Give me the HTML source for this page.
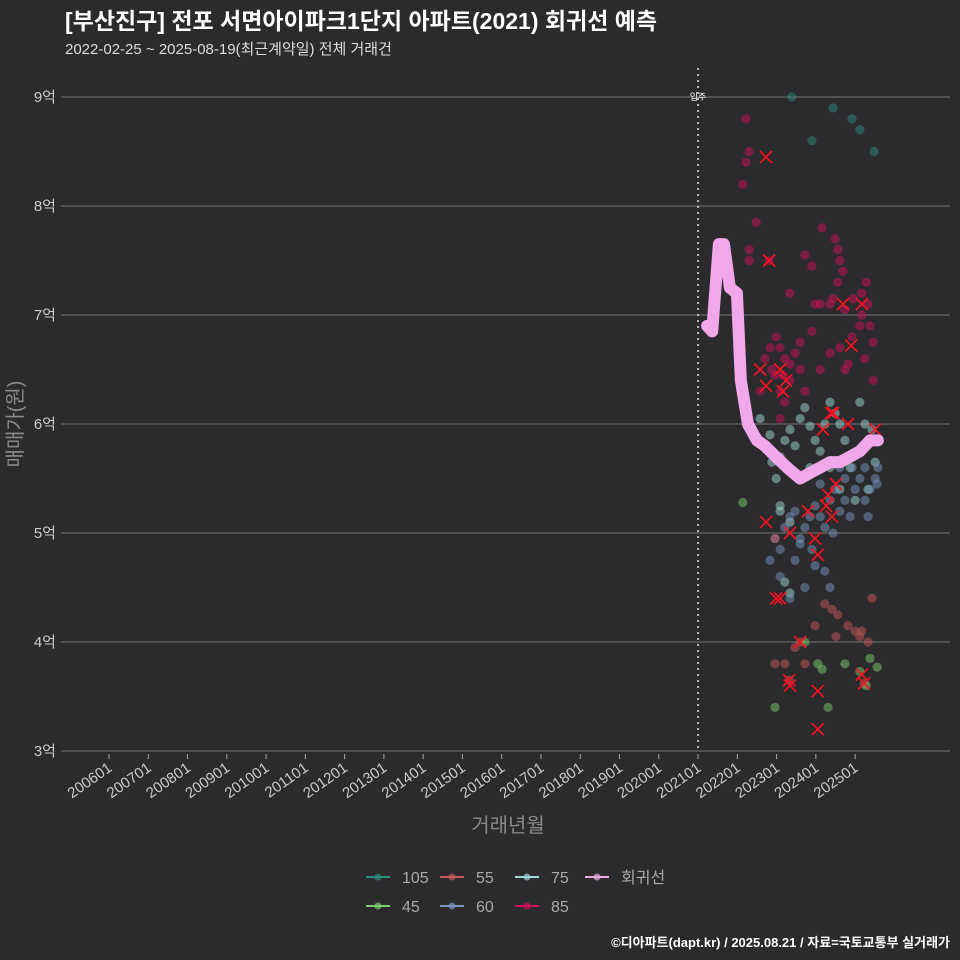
<!DOCTYPE html>
<html><head><meta charset="utf-8"><style>
html,body{margin:0;padding:0;background:#2b2b2d;}
svg{display:block;font-family:"Liberation Sans","Noto Sans CJK KR",sans-serif;}
</style></head><body>
<svg id="chart" width="960" height="960" viewBox="0 0 960 960" xmlns="http://www.w3.org/2000/svg">
<rect width="960" height="960" fill="#2b2b2d"/>
<text x="65" y="29" fill="#ffffff" font-size="23" font-weight="bold">[부산진구] 전포 서면아이파크1단지 아파트(2021) 회귀선 예측</text>
<text x="65" y="54" fill="#dddddd" font-size="15">2022-02-25 ~ 2025-08-19(최근계약일) 전체 거래건</text>
<g id="grid"></g>
<g id="xaxis"></g>
<g id="yaxis"></g>
<g id="marks"></g>
<text x="22" y="424" fill="#8a8a8a" font-size="20" text-anchor="middle" transform="rotate(-90 22 424)">매매가(원)</text>
<text x="508" y="832" fill="#8a8a8a" font-size="20" text-anchor="middle">거래년월</text>
<g id="legend"></g>
<text x="950" y="947" fill="#ffffff" font-size="13" font-weight="bold" text-anchor="end">©디아파트(dapt.kr) / 2025.08.21 / 자료=국토교통부 실거래가</text>
</svg>
<script>
const yTicks=[3,4,5,6,7,8,9];
const xTickYears=[2006,2007,2008,2009,2010,2011,2012,2013,2014,2015,2016,2017,2018,2019,2020,2021,2022,2023,2024,2025];
const moveInYear=2021.0;
const s105=[[2023.39,9.0],[2024.44,8.9],[2024.92,8.8],[2025.12,8.7],[2023.90,8.6],[2025.48,8.5]];
const s85=[[2022.22,8.8],[2022.30,8.5],[2022.22,8.4],[2022.14,8.2],[2022.48,7.85],[2022.30,7.6],[2022.30,7.5],[2022.81,7.5],[2023.34,7.2],[2023.72,7.55],[2023.90,7.45],[2024.16,7.8],[2024.49,7.7],[2024.56,7.6],[2024.61,7.5],[2024.69,7.4],[2024.11,7.1],[2024.44,7.15],[2024.74,7.05],[2024.95,7.15],[2025.17,7.2],[2025.33,7.1],[2025.38,6.9],[2025.12,6.9],[2024.92,6.8],[2024.61,6.7],[2024.36,6.65],[2024.74,6.5],[2025.25,6.6],[2025.46,6.75],[2025.46,6.4],[2022.99,6.8],[2023.09,6.7],[2023.21,6.6],[2023.34,6.55],[2023.47,6.65],[2023.60,6.5],[2023.72,6.3],[2022.96,6.45],[2023.09,6.3],[2023.34,6.4],[2023.60,6.75],[2023.90,6.85],[2023.98,7.1],[2024.11,6.5],[2024.36,7.1],[2024.56,7.3],[2025.17,7.0],[2022.70,6.6],[2022.83,6.7],[2022.58,6.3],[2023.21,6.2],[2023.09,6.05],[2025.28,7.3],[2024.82,6.55],[2023.16,6.45],[2022.88,6.5]];
const s75=[[2022.88,5.65],[2023.09,5.7],[2023.21,5.85],[2023.34,5.95],[2023.47,5.8],[2023.60,6.05],[2023.72,6.15],[2023.85,5.98],[2023.98,5.85],[2024.11,5.75],[2024.36,6.2],[2024.49,6.1],[2024.61,6.0],[2024.74,5.85],[2024.87,5.6],[2025.12,6.2],[2025.25,6.0],[2025.38,5.85],[2025.51,5.65],[2023.09,5.2],[2023.34,5.1],[2023.60,5.5],[2023.85,5.6],[2024.36,5.6],[2024.61,5.4],[2025.00,5.3],[2025.33,5.4],[2022.58,6.05],[2022.83,5.9],[2022.99,5.5],[2023.21,4.55],[2023.34,4.45],[2023.09,5.25],[2024.23,6.0],[2025.43,5.95]];
const s60=[[2022.96,4.95],[2023.09,4.85],[2023.21,5.05],[2023.34,5.15],[2023.47,5.2],[2023.60,4.95],[2023.72,5.05],[2023.85,5.15],[2023.98,5.25],[2024.11,5.15],[2024.23,5.05],[2024.36,5.3],[2024.49,5.4],[2024.61,5.2],[2024.74,5.3],[2024.87,5.15],[2025.00,5.4],[2025.12,5.5],[2025.25,5.3],[2025.38,5.4],[2025.51,5.5],[2025.58,5.6],[2025.33,5.15],[2024.74,5.5],[2024.92,5.6],[2023.09,4.6],[2023.47,4.75],[2023.90,4.85],[2024.23,4.65],[2023.72,4.5],[2024.36,4.5],[2022.83,4.75],[2023.34,4.4],[2023.60,4.9],[2023.98,4.7],[2024.61,5.6],[2025.25,5.6],[2024.11,5.45],[2025.56,5.45],[2024.44,5.0]];
const s55=[[2023.60,4.0],[2023.47,3.95],[2023.98,4.15],[2024.23,4.35],[2024.41,4.3],[2024.56,4.25],[2024.82,4.15],[2025.00,4.1],[2025.12,4.05],[2025.33,4.0],[2025.43,4.4],[2025.17,4.1],[2022.96,3.8],[2023.21,3.8],[2023.72,3.8],[2024.51,4.05],[2022.96,4.95],[2023.32,3.65],[2025.23,3.62]];
const s45=[[2022.14,5.28],[2022.96,3.4],[2023.72,4.0],[2024.05,3.8],[2024.16,3.75],[2024.74,3.8],[2025.12,3.73],[2025.38,3.85],[2025.56,3.77],[2024.31,3.4],[2025.28,3.6]];
const cancelled=[[2022.73,8.45],[2022.81,7.5],[2024.69,7.1],[2025.17,7.1],[2024.90,6.72],[2022.58,6.5],[2023.09,6.5],[2023.24,6.4],[2022.73,6.35],[2023.16,6.3],[2024.39,6.1],[2024.82,6.0],[2025.51,5.95],[2024.18,5.95],[2024.44,6.1],[2022.73,5.1],[2023.34,5.0],[2024.31,5.35],[2023.80,5.2],[2024.26,5.25],[2024.41,5.15],[2023.98,4.95],[2024.05,4.8],[2022.99,4.4],[2023.09,4.4],[2023.60,4.0],[2023.32,3.65],[2023.34,3.6],[2024.05,3.55],[2025.17,3.7],[2025.23,3.62],[2024.05,3.2],[2024.51,5.45]];
const regYears=[2021.23,2021.36,2021.53,2021.66,2021.81,2021.99,2022.09,2022.27,2022.50,2022.70,2022.98,2023.27,2023.60,2023.85,2024.11,2024.36,2024.61,2024.87,2025.12,2025.38,2025.58];
const regPrices=[6.9,6.85,7.65,7.65,7.25,7.2,6.4,6.0,5.85,5.8,5.7,5.6,5.5,5.55,5.6,5.65,5.65,5.7,5.75,5.85,5.85];

const NS="http://www.w3.org/2000/svg";
const xS=yr=>109+(yr-2006)*39.27;
const yS=p=>751-(p-3)*109;
function mk(tag,attrs,parent){const e=document.createElementNS(NS,tag);for(const k in attrs)e.setAttribute(k,attrs[k]);parent.appendChild(e);return e;}
const grid=document.getElementById('grid'),xa=document.getElementById('xaxis'),ya=document.getElementById('yaxis'),marks=document.getElementById('marks'),leg=document.getElementById('legend');
yTicks.forEach(v=>{
  const l=mk('line',{x1:61,x2:950,y1:yS(v),y2:yS(v),stroke:'#666',"stroke-width":1.2},grid);
  
  
  const t=mk('text',{x:56,y:yS(v)+5,fill:'#cccccc',"font-size":15,"text-anchor":"end"},ya);
  t.textContent=v+'억';
  
  
});
xTickYears.forEach(yr=>{
  const x=xS(yr);
  const l=mk('line',{x1:x,x2:x,y1:754,y2:759,stroke:'#aaa'},xa);
  
  
  const t=mk('text',{x:x+4,y:770,fill:'#cccccc',"font-size":15,"text-anchor":"end",transform:`rotate(-35 ${x+4} 770)`},xa);
  t.textContent=yr+'01';
  
  
});
const mv=mk('line',{x1:xS(moveInYear),x2:xS(moveInYear),y1:68,y2:751,stroke:'#bbb',"stroke-width":2,"stroke-dasharray":"2,4"},marks);


const mvt=mk('text',{x:xS(moveInYear),y:100,fill:'#fff',"font-size":9,"text-anchor":"middle"},marks);
mvt.textContent='입주';


const series=[['105',s105,'#2e8b7e'],['85',s85,'#d0105a'],['75',s75,'#9ed8d4'],['60',s60,'#7a95c0'],['55',s55,'#c8585a'],['45',s45,'#7ccd6b']];
series.forEach(([nm,arr,c])=>{
  arr.forEach(([yr,p])=>{
    const d=mk('circle',{cx:xS(yr),cy:yS(p),r:4.6,fill:c,"fill-opacity":0.5},marks);
    
    
  });
});
cancelled.forEach(([yr,p])=>{
  const x=xS(yr),y=yS(p);
  const g=mk('path',{d:`M${x-6} ${y-6}L${x+6} ${y+6}M${x-6} ${y+6}L${x+6} ${y-6}`,stroke:'#ff1020',"stroke-width":1.6,fill:'none'},marks);
  
  
});
const pts=regYears.map((yr,i)=>xS(yr)+','+yS(regPrices[i])).join(' ');
const rl=mk('polyline',{points:pts,fill:'none',stroke:'#f0a8ea',"stroke-width":12,"stroke-linejoin":"round","stroke-linecap":"round"},marks);


const legItems=[['105','#2e8b7e',366,877],['55','#c8585a',440,877],['75','#9ed8d4',515,877],['회귀선','#e8a8e0',585,877],['45','#7ccd6b',366,906],['60','#7a95c0',440,906],['85','#d0105a',515,906]];
legItems.forEach(([lab,c,x,y])=>{
  const g=mk('g',{},leg);
  
  
  mk('line',{x1:x,x2:x+24,y1:y,y2:y,stroke:c,"stroke-width":2},g);
  mk('circle',{cx:x+12,cy:y,r:3.5,fill:c,"fill-opacity":0.7},g);
  const t=mk('text',{x:x+36,y:y+6,fill:'#aaaaaa',"font-size":16},g);
  t.textContent=lab;
});
</script>
</body></html>
